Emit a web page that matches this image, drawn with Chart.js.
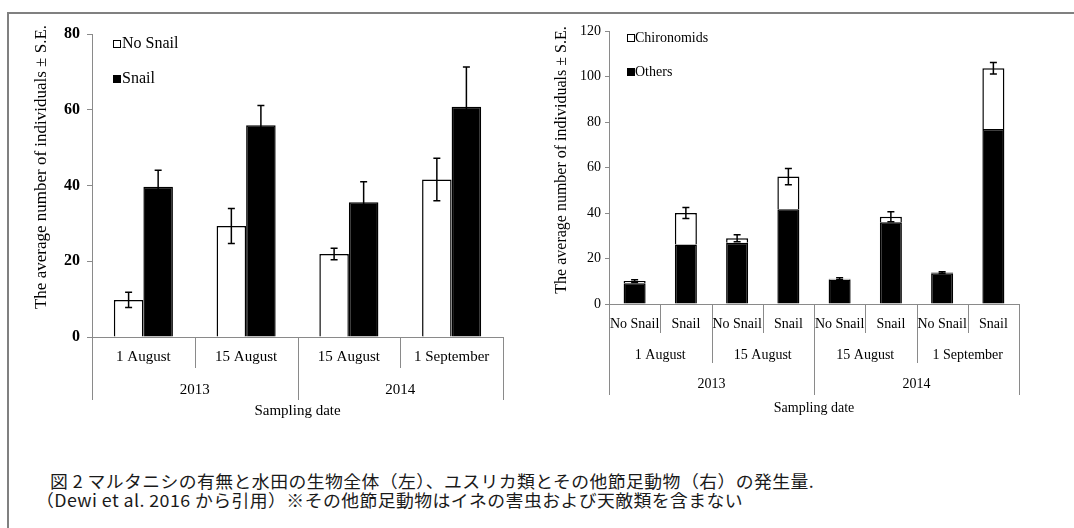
<!DOCTYPE html>
<html><head><meta charset="utf-8">
<script src="https://cdn.jsdelivr.net/npm/chart.js@4.4.1/dist/chart.umd.min.js"></script>
<style>
html,body{margin:0;padding:0;background:#fff;width:1074px;height:528px;overflow:hidden;position:relative}
#frame{position:absolute;left:7px;top:12px;width:1070px;height:520px;border-top:2px solid #808080;border-left:2px solid #808080}
#w1{position:absolute;left:0;top:0;width:530px;height:430px}
#w2{position:absolute;left:530px;top:0;width:544px;height:430px}
.cap{position:absolute;font-family:"Noto Sans CJK JP";font-size:17px;line-height:20px;letter-spacing:0.4px;transform-origin:0 0;transform:scaleX(1.05);white-space:nowrap;color:#1a1a1a}
</style></head><body>
<div id="frame"></div>
<div id="w1"><canvas id="c1" width="530" height="430"></canvas></div>
<div id="w2"><canvas id="c2" width="544" height="430"></canvas></div>
<div class="cap" id="cap1" style="left:50px;top:471px"></div>
<div class="cap" id="cap2" style="left:36px;top:490px"></div>
<script>
// ---- data ----
const dates = ["1 August", "15 August", "15 August", "1 September"];
const years = ["2013", "2014"];
const datesPerYear = [2, 2];
const treatments = ["No Snail", "Snail"];
const noSnail = [9.8, 29.3, 21.9, 41.6];
const noSnailSE = [2.0, 4.6, 1.5, 5.6];
const snail = [39.7, 55.9, 35.6, 60.8];
const snailSE = [4.3, 5.2, 5.4, 10.5];
const others = [9.1, 26.2, 26.9, 41.6, 10.8, 35.9, 13.5, 76.9];
const chironomids = [1.0, 13.8, 2.0, 14.4, 0.3, 2.5, 0.3, 26.7];
const totalSE = [0.6, 2.4, 1.5, 3.6, 0.4, 2.2, 0.4, 2.5];
const leftMax = 80, leftStep = 20;
const rightMax = 120, rightStep = 20;
const yTitle = "The average number of individuals \u00b1 S.E.";
const xTitle = "Sampling date";
const caption1 = "図 2 マルタニシの有無と水田の生物全体（左）、ユスリカ類とその他節足動物（右）の発生量.";
const caption2 = "（Dewi et al. 2016 から引用）※その他節足動物はイネの害虫および天敵類を含まない";

document.getElementById('cap1').textContent = caption1;
document.getElementById('cap2').textContent = caption2;

const SERIF = '"Liberation Serif", "Times New Roman", serif';
const AX = '#8a8a8a';

function errBar(ctx, x, yTop, yBot, half) {
  ctx.beginPath();
  ctx.moveTo(x, yBot); ctx.lineTo(x, yTop);
  ctx.moveTo(x - half, yTop); ctx.lineTo(x + half, yTop);
  ctx.moveTo(x - half, yBot); ctx.lineTo(x + half, yBot);
  ctx.stroke();
}
function text(ctx, s, x, y, font, align) {
  ctx.font = font; ctx.fillStyle = '#000';
  ctx.textAlign = align || 'center'; ctx.textBaseline = 'middle';
  ctx.fillText(s, x, y);
}
function vline(ctx, x, y0, y1) {
  ctx.beginPath(); ctx.moveTo(x, y0); ctx.lineTo(x, y1); ctx.stroke();
}

// ---- left chart ----
const leftPlugin = {
  id: 'leftDecor',
  afterDraw(chart) {
    const ctx = chart.ctx, xs = chart.scales.x, ys = chart.scales.y;
    const ca = chart.chartArea;
    ctx.save();
    ctx.strokeStyle = '#000'; ctx.lineWidth = 1.5;
    [[noSnail, noSnailSE], [snail, snailSE]].forEach((pair, di) => {
      const meta = chart.getDatasetMeta(di);
      pair[0].forEach((v, i) => {
        const el = meta.data[i];
        errBar(ctx, el.x, ys.getPixelForValue(v + pair[1][i]), ys.getPixelForValue(v - pair[1][i]), 3.5);
      });
    });
    ctx.strokeStyle = AX; ctx.lineWidth = 1;
    const n = dates.length, w = (ca.right - ca.left) / n;
    const b = ca.bottom;
    for (let i = 0; i <= n; i++) {
      const x = Math.round(ca.left + i * w) + 0.5;
      let yearEdge = (i === 0 || i === n);
      let acc = 0; datesPerYear.forEach(d => { acc += d; if (acc === i) yearEdge = true; });
      vline(ctx, x, b, b + (yearEdge ? 63 : 31));
    }
    dates.forEach((d, i) => text(ctx, d, xs.getPixelForValue(i), b + 20, '15px ' + SERIF));
    let start = 0;
    years.forEach((yr, k) => {
      const cx = ca.left + (start + datesPerYear[k] / 2) * w;
      text(ctx, yr, cx, b + 53, '15px ' + SERIF);
      start += datesPerYear[k];
    });
    text(ctx, xTitle, (ca.left + ca.right) / 2, b + 74, '15px ' + SERIF);
    ctx.save(); ctx.translate(42, 167); ctx.rotate(-Math.PI / 2);
    text(ctx, yTitle, 0, 0, '17px ' + SERIF); ctx.restore();
    const ds = chart.data.datasets;
    [44, 79].forEach((yy, k) => {
      ctx.fillStyle = ds[k].backgroundColor; ctx.strokeStyle = '#000'; ctx.lineWidth = 1;
      ctx.fillRect(113, yy - 4, 7, 8); ctx.strokeRect(113.5, yy - 3.5, 7, 7);
      text(ctx, ds[k].label, 122, yy, '16px ' + SERIF, 'left');
    });
    ctx.restore();
  }
};

new Chart(document.getElementById('c1'), {
  type: 'bar',
  data: {
    labels: dates,
    datasets: [
      { label: treatments[0], data: noSnail, backgroundColor: '#ffffff', borderColor: '#000', borderWidth: 1.5 },
      { label: treatments[1], data: snail, backgroundColor: '#000000', borderColor: '#000', borderWidth: 1.5 }
    ]
  },
  options: {
    responsive: false, animation: false, devicePixelRatio: 1,
    layout: { padding: { top: 34, right: 27, left: 0, bottom: 0 } },
    plugins: { legend: { display: false }, tooltip: { enabled: false } },
    datasets: { bar: { categoryPercentage: 0.575, barPercentage: 1.0 } },
    scales: {
      x: {
        ticks: { display: false },
        grid: { display: true, drawOnChartArea: false, drawTicks: false },
        border: { display: true, color: AX, width: 1 },
        afterFit: s => { s.height = 93; }
      },
      y: {
        min: 0, max: leftMax,
        ticks: { stepSize: leftStep, color: '#000', padding: 7, font: { family: SERIF, size: 16, weight: 'bold' } },
        grid: { drawOnChartArea: false, color: AX, tickLength: 5 },
        border: { display: true, color: AX, width: 1 },
        afterFit: s => { s.width = 92; }
      }
    }
  },
  plugins: [leftPlugin]
});

// ---- right chart ----
const subLabels = [];
dates.forEach(() => treatments.forEach(t => subLabels.push(t)));

const rightPlugin = {
  id: 'rightDecor',
  afterDraw(chart) {
    const ctx = chart.ctx, xs = chart.scales.x, ys = chart.scales.y;
    const ca = chart.chartArea;
    ctx.save();
    ctx.strokeStyle = '#000'; ctx.lineWidth = 1.5;
    const topMeta = chart.getDatasetMeta(1);
    others.forEach((o, i) => {
      const tot = o + chironomids[i];
      errBar(ctx, topMeta.data[i].x, ys.getPixelForValue(tot + totalSE[i]), ys.getPixelForValue(tot - totalSE[i]), 3.5);
    });
    ctx.strokeStyle = AX; ctx.lineWidth = 1;
    const n = subLabels.length, w = (ca.right - ca.left) / n, b = ca.bottom;
    const nt = treatments.length;
    for (let i = 0; i <= n; i++) {
      const x = Math.round(ca.left + i * w) + 0.5;
      let len = 29;
      if (i % nt === 0) len = 59;
      let acc = 0; datesPerYear.forEach(d => { acc += d * nt; if (acc === i) len = 91; });
      if (i === 0 || i === n) len = 91;
      vline(ctx, x, b, b + len);
    }
    subLabels.forEach((s, i) => text(ctx, s, xs.getPixelForValue(i), b + 20, '14px ' + SERIF));
    dates.forEach((d, k) => text(ctx, d, ca.left + (k + 0.5) * nt * w, b + 51, '14px ' + SERIF));
    let start = 0;
    years.forEach((yr, k) => {
      text(ctx, yr, ca.left + (start + datesPerYear[k] / 2) * nt * w, b + 80, '14px ' + SERIF);
      start += datesPerYear[k];
    });
    text(ctx, xTitle, (ca.left + ca.right) / 2, b + 104, '14px ' + SERIF);
    ctx.save(); ctx.translate(32, 160); ctx.rotate(-Math.PI / 2);
    text(ctx, yTitle, 0, 0, '16px ' + SERIF); ctx.restore();
    const ds = chart.data.datasets;
    [[1, 38], [0, 72]].forEach(([k, yy]) => {
      ctx.fillStyle = ds[k].backgroundColor; ctx.strokeStyle = '#000'; ctx.lineWidth = 1;
      ctx.fillRect(97, yy - 4, 7, 8); ctx.strokeRect(97.5, yy - 3.5, 7, 7);
      text(ctx, ds[k].label, 105, yy, '14px ' + SERIF, 'left');
    });
    ctx.restore();
  }
};

new Chart(document.getElementById('c2'), {
  type: 'bar',
  data: {
    labels: subLabels,
    datasets: [
      { label: 'Others', data: others, backgroundColor: '#000000', borderColor: '#000', borderWidth: 1.5 },
      { label: 'Chironomids', data: chironomids, backgroundColor: '#ffffff', borderColor: '#000', borderWidth: 1.5 }
    ]
  },
  options: {
    responsive: false, animation: false, devicePixelRatio: 1,
    layout: { padding: { top: 31, right: 55, left: 0, bottom: 0 } },
    plugins: { legend: { display: false }, tooltip: { enabled: false } },
    datasets: { bar: { categoryPercentage: 0.43, barPercentage: 1.0 } },
    scales: {
      x: {
        stacked: true,
        ticks: { display: false },
        grid: { display: true, drawOnChartArea: false, drawTicks: false },
        border: { display: true, color: AX, width: 1 },
        afterFit: s => { s.height = 126; }
      },
      y: {
        stacked: true, min: 0, max: rightMax,
        ticks: { stepSize: rightStep, color: '#000', padding: 4, font: { family: SERIF, size: 14 } },
        grid: { drawOnChartArea: false, color: AX, tickLength: 4 },
        border: { display: true, color: AX, width: 1 },
        afterFit: s => { s.width = 79; }
      }
    }
  },
  plugins: [rightPlugin]
});
</script>
</body></html>
